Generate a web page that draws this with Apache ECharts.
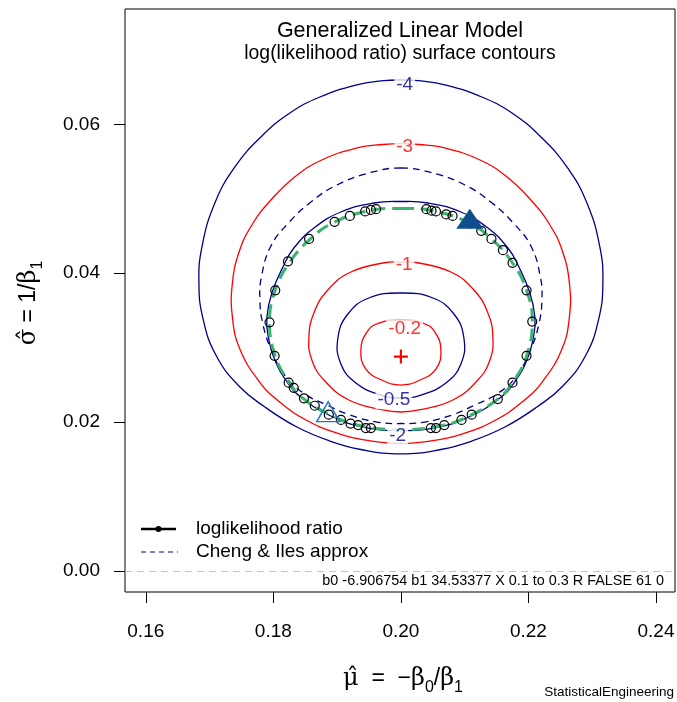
<!DOCTYPE html>
<html>
<head>
<meta charset="utf-8">
<script src="https://cdn.jsdelivr.net/npm/echarts@6/dist/echarts.min.js"></script>
<style>
html,body{margin:0;padding:0;background:#fff}
#chart{width:677px;height:702px}
</style>
</head>
<body>
<div id="chart"></div>
<script>
// Axis ticks
const xTicks = [0.16, 0.18, 0.20, 0.22, 0.24];
const yTicks = [0.00, 0.02, 0.04, 0.06];

// log(likelihood ratio) contour levels, each a closed path of [mu, sigma]
const contourM4 = [[0.2,0.06595],[0.20267,0.06586],[0.20706,0.06528],[0.21270,0.06367],[0.21741,0.06152],[0.22195,0.05830],[0.22603,0.05427],[0.22917,0.04943],[0.23120,0.04352],[0.23167,0.03868],[0.23105,0.03398],[0.22901,0.02901],[0.22540,0.02485],[0.22133,0.02203],[0.21631,0.01934],[0.21113,0.01746],[0.20627,0.01632],[0.2,0.01572],[0.19373,0.01632],[0.18887,0.01746],[0.18369,0.01934],[0.17867,0.02203],[0.17460,0.02485],[0.17099,0.02901],[0.16895,0.03398],[0.16833,0.03868],[0.16880,0.04352],[0.17083,0.04943],[0.17397,0.05427],[0.17805,0.05830],[0.18259,0.06152],[0.18730,0.06367],[0.19294,0.06528],[0.19733,0.06586]];
const contourM3 = [[0.2,0.05742],[0.20282,0.05729],[0.20690,0.05682],[0.21223,0.05527],[0.21646,0.05306],[0.22038,0.04983],[0.22336,0.04648],[0.22532,0.04298],[0.22642,0.03868],[0.22642,0.03412],[0.22525,0.02982],[0.22227,0.02552],[0.21921,0.02284],[0.21458,0.02015],[0.20957,0.01840],[0.20455,0.01746],[0.2,0.01713],[0.19545,0.01746],[0.19043,0.01840],[0.18542,0.02015],[0.18079,0.02284],[0.17773,0.02552],[0.17475,0.02982],[0.17358,0.03412],[0.17358,0.03868],[0.17468,0.04298],[0.17664,0.04648],[0.17962,0.04983],[0.18354,0.05306],[0.18777,0.05527],[0.19310,0.05682],[0.19718,0.05729]];
const contourM2 = [[0.2,0.04963],[0.20423,0.04943],[0.20941,0.04822],[0.21364,0.04607],[0.21678,0.04339],[0.21835,0.04110],[0.22023,0.03734],[0.22101,0.03412],[0.22085,0.03170],[0.21976,0.02834],[0.21772,0.02525],[0.21552,0.02324],[0.21098,0.02082],[0.20565,0.01928],[0.2,0.01887],[0.19435,0.01928],[0.18902,0.02082],[0.18448,0.02324],[0.18228,0.02525],[0.18024,0.02834],[0.17915,0.03170],[0.17899,0.03412],[0.17977,0.03734],[0.18165,0.04110],[0.18322,0.04339],[0.18636,0.04607],[0.19059,0.04822],[0.19577,0.04943]];
const contourM1 = [[0.2,0.04150],[0.20235,0.04144],[0.20784,0.04016],[0.21145,0.03774],[0.21364,0.03466],[0.21443,0.03130],[0.21396,0.02834],[0.21207,0.02566],[0.20815,0.02297],[0.20282,0.02163],[0.2,0.02136],[0.19718,0.02163],[0.19185,0.02297],[0.18793,0.02566],[0.18604,0.02834],[0.18557,0.03130],[0.18636,0.03466],[0.18855,0.03774],[0.19216,0.04016],[0.19765,0.04144]];
const contourM05 = [[0.2,0.03734],[0.20502,0.03667],[0.20831,0.03452],[0.20988,0.03130],[0.20941,0.02781],[0.20706,0.02525],[0.20314,0.02364],[0.2,0.02324],[0.19686,0.02364],[0.19294,0.02525],[0.19059,0.02781],[0.19012,0.03130],[0.19169,0.03452],[0.19498,0.03667]];
const contourM02 = [[0.2,0.03371],[0.20345,0.03331],[0.20533,0.03210],[0.20627,0.02968],[0.20549,0.02713],[0.20267,0.02552],[0.2,0.02498],[0.19733,0.02552],[0.19451,0.02713],[0.19373,0.02968],[0.19467,0.03210],[0.19655,0.03331]];

// Cheng & Iles approximate confidence region
const chengIles = [[0.2,0.05413],[0.20470,0.05353],[0.21004,0.05185],[0.21411,0.04956],[0.21748,0.04688],[0.22038,0.04365],[0.22187,0.03949],[0.22211,0.03640],[0.22164,0.03318],[0.22038,0.02982],[0.21803,0.02606],[0.21505,0.02377],[0.21160,0.02230],[0.20800,0.02095],[0.20376,0.02001],[0.2,0.01981],[0.19624,0.02001],[0.19200,0.02095],[0.18840,0.02230],[0.18495,0.02377],[0.18197,0.02606],[0.17962,0.02982],[0.17836,0.03318],[0.17789,0.03640],[0.17813,0.03949],[0.17962,0.04365],[0.18252,0.04688],[0.18589,0.04956],[0.18996,0.05185],[0.19530,0.05353]];

// Smooth likelihood-ratio confidence boundary
const lrBoundary = [[0.2000,0.0487],[0.2055,0.0483],[0.2108,0.0467],[0.2142,0.0446],[0.2175,0.0414],[0.2197,0.0377],[0.2206,0.0335],[0.2197,0.0289],[0.2175,0.0253],[0.2152,0.0231],[0.2111,0.0210],[0.2068,0.0196],[0.2000,0.0190],[0.1932,0.0196],[0.1889,0.0210],[0.1848,0.0231],[0.1825,0.0253],[0.1803,0.0289],[0.1794,0.0335],[0.1803,0.0377],[0.1825,0.0414],[0.1858,0.0446],[0.1892,0.0467],[0.1945,0.0483]];

// Points found on the likelihood-ratio boundary
const lrPoints = [[0.1823,0.0416],[0.1803,0.0377],[0.1794,0.0334],[0.1802,0.0289],[0.1824,0.0253],[0.1832,0.0246],[0.1848,0.0232],[0.1865,0.0222],[0.1887,0.0210],[0.1906,0.0203],[0.1921,0.0198],[0.1933,0.0196],[0.1945,0.0192],[0.1953,0.0192],[0.2047,0.0192],[0.2055,0.0192],[0.2068,0.0196],[0.2095,0.0203],[0.2111,0.0210],[0.2152,0.0231],[0.2175,0.0253],[0.2197,0.0289],[0.2206,0.0335],[0.2197,0.0377],[0.2175,0.0414],[0.2160,0.0431],[0.2142,0.0446],[0.2126,0.0457],[0.2108,0.0467],[0.2081,0.0477],[0.2071,0.0479],[0.2055,0.0483],[0.2048,0.0484],[0.2040,0.0486],[0.1961,0.0486],[0.1953,0.0485],[0.1944,0.0483],[0.1920,0.0477],[0.1896,0.0469],[0.1856,0.0446]];

// Maximum-likelihood estimate and the two extreme boundary points
const mleEstimate = [[0.2000,0.0288]];
const upperPoint = [[0.2108,0.0473]];
const lowerPoint = [[0.1886,0.0214]];

// Contour level labels: [mu, sigma, text]
const levelLabels = [[0.2006,0.0653,'-4'],[0.2006,0.0570,'-3'],[0.1995,0.0181,'-2'],[0.2005,0.0411,'-1'],[0.1989,0.0230,'-0.5'],[0.2006,0.0325,'-0.2']];

const NAVY = '#000088';
const RED = '#ff0000';
const FONT = '"Liberation Sans", Arial, sans-serif';
const GREEK = '"DejaVu Serif", "Liberation Serif", serif';

// A closed, smoothed outline drawn through the axes' own coordinate mapping
function closedCurve(points, lineStyle, z) {
  return {
    type: 'custom',
    data: points,
    encode: {x: 0, y: 1},
    silent: true,
    z: z,
    clip: true,
    renderItem: (params, api) => {
      if (params.dataIndex !== 0) return null;
      return {
        type: 'polygon',
        shape: {points: points.map(p => api.coord(p)), smooth: 0.45},
        style: Object.assign({fill: 'none'}, lineStyle)
      };
    }
  };
}

const labelColors = {'-4': NAVY, '-3': RED, '-2': NAVY, '-1': RED, '-0.5': NAVY, '-0.2': RED};

const series = [
  closedCurve(contourM4, {stroke: NAVY, lineWidth: 1.3}, 2),
  closedCurve(contourM3, {stroke: RED, lineWidth: 1.3}, 2),
  closedCurve(contourM2, {stroke: NAVY, lineWidth: 1.3}, 2),
  closedCurve(contourM1, {stroke: RED, lineWidth: 1.3}, 2),
  closedCurve(contourM05, {stroke: NAVY, lineWidth: 1.3}, 2),
  closedCurve(contourM02, {stroke: RED, lineWidth: 1.3}, 2),
  closedCurve(chengIles, {stroke: NAVY, lineWidth: 1.3, lineDash: [7, 5]}, 3),
  closedCurve(lrBoundary, {stroke: '#3CB371', lineWidth: 3, lineDash: [13, 7]}, 4),
  {
    type: 'scatter', data: lrPoints, symbol: 'circle', symbolSize: 9, silent: true, z: 5,
    itemStyle: {color: 'rgba(0,0,0,0)', borderColor: '#000', borderWidth: 1.2, opacity: 1},
    markLine: {
      silent: true,
      symbol: ['none', 'none'],
      label: {show: false},
      lineStyle: {color: '#c4c4c4', type: [7, 5], width: 1.2},
      data: [{yAxis: 0}]
    }
  },
  {
    type: 'scatter', data: upperPoint, symbol: 'triangle', symbolSize: [27, 20], silent: true, z: 6,
    itemStyle: {color: '#104E8B', opacity: 1}
  },
  {
    type: 'scatter', data: lowerPoint, symbol: 'triangle', symbolSize: [23, 20], silent: true, z: 6,
    itemStyle: {color: 'rgba(0,0,0,0)', borderColor: '#1874CD', borderWidth: 1.4, opacity: 1}
  },
  {
    type: 'scatter', data: mleEstimate, symbol: 'path://M0,5.5H13V7.5H0Z M5.5,0H7.5V13H5.5Z',
    symbolSize: 14, silent: true, z: 6, itemStyle: {color: RED, opacity: 1}
  },
  {
    type: 'scatter', symbolSize: 1, silent: true, z: 8,
    itemStyle: {color: 'rgba(0,0,0,0)'},
    data: levelLabels.map(d => ({value: d, label: {color: labelColors[d[2]]}})),
    label: {
      show: true, position: 'inside', formatter: p => p.value[2],
      fontSize: 19, fontFamily: FONT, backgroundColor: '#fff', padding: [0, 2]
    }
  }
];

const mathRich = {
  g: {fontSize: 24, fontFamily: GREEK, fill: '#000', lineHeight: 34, verticalAlign: 'middle'},
  n: {fontSize: 23, fontFamily: FONT, fill: '#000', lineHeight: 34, verticalAlign: 'middle'},
  s: {fontSize: 16, fontFamily: FONT, fill: '#000', lineHeight: 34, verticalAlign: 'bottom'}
};

const chart = echarts.init(document.getElementById('chart'), null, {renderer: 'canvas'});
chart.setOption({
  animation: false,
  backgroundColor: '#fff',
  grid: {left: 125, right: 2, top: 9, bottom: 110, show: true, borderColor: '#000', borderWidth: 1, outerBoundsMode: 'none'},
  xAxis: {
    type: 'value', min: 0.15674, max: 0.24298,
    axisLine: {show: false, onZero: false}, splitLine: {show: false},
    axisTick: {show: true, customValues: xTicks, length: 11, lineStyle: {color: '#000', width: 1}},
    axisLabel: {customValues: xTicks, formatter: v => v.toFixed(2), fontSize: 19, fontFamily: FONT, color: '#000', margin: 30}
  },
  yAxis: {
    type: 'value', min: -0.00282, max: 0.07549,
    axisLine: {show: false, onZero: false}, splitLine: {show: false},
    axisTick: {show: true, customValues: yTicks, length: 11, lineStyle: {color: '#000', width: 1}},
    axisLabel: {customValues: yTicks, formatter: v => v.toFixed(2), fontSize: 19, fontFamily: FONT, color: '#000', margin: 25}
  },
  series: series,
  graphic: [
    {type: 'text', x: 400, y: 31, silent: true, style: {text: 'Generalized Linear Model', fontSize: 21.5, fontFamily: FONT, fill: '#000', align: 'center', verticalAlign: 'middle'}},
    {type: 'text', x: 400, y: 54, silent: true, style: {text: 'log(likelihood ratio) surface contours', fontSize: 19.4, fontFamily: FONT, fill: '#000', align: 'center', verticalAlign: 'middle'}},
    {type: 'text', x: 403, y: 679, silent: true, style: {
      text: '{g|μ̂}{n|  =  −}{g|β}{s|0}{n|/}{g|β}{s|1}', align: 'center', verticalAlign: 'middle', rich: mathRich
    }},
    {type: 'text', x: 29, y: 303, rotation: Math.PI / 2, silent: true, style: {
      text: '{g|σ̂}{n| = 1}{n|/}{g|β}{s|1}', align: 'center', verticalAlign: 'middle', rich: mathRich
    }},
    // legend
    {type: 'line', silent: true, shape: {x1: 141, y1: 529, x2: 176, y2: 529}, style: {stroke: '#000', lineWidth: 2.5}},
    {type: 'circle', silent: true, shape: {cx: 158.5, cy: 529, r: 3}, style: {fill: '#000'}},
    {type: 'text', x: 196, y: 529, silent: true, style: {text: 'loglikelihood ratio', fontSize: 19, fontFamily: FONT, fill: '#000', align: 'left', verticalAlign: 'middle'}},
    {type: 'line', silent: true, shape: {x1: 141, y1: 552, x2: 178, y2: 552}, style: {stroke: NAVY, lineWidth: 1, lineDash: [5, 4]}},
    {type: 'text', x: 196, y: 552, silent: true, style: {text: 'Cheng & Iles approx', fontSize: 19, fontFamily: FONT, fill: '#000', align: 'left', verticalAlign: 'middle'}},
    // fit parameters
    {type: 'text', x: 664, y: 581, silent: true, style: {text: 'b0 -6.906754 b1 34.53377 X 0.1 to 0.3 R FALSE 61 0', fontSize: 14.4, fontFamily: FONT, fill: '#000', align: 'right', verticalAlign: 'middle'}},
    {type: 'text', x: 674, y: 692, silent: true, style: {text: 'StatisticalEngineering', fontSize: 13.5, fontFamily: FONT, fill: '#000', align: 'right', verticalAlign: 'middle'}}
  ]
});
</script>
</body>
</html>
